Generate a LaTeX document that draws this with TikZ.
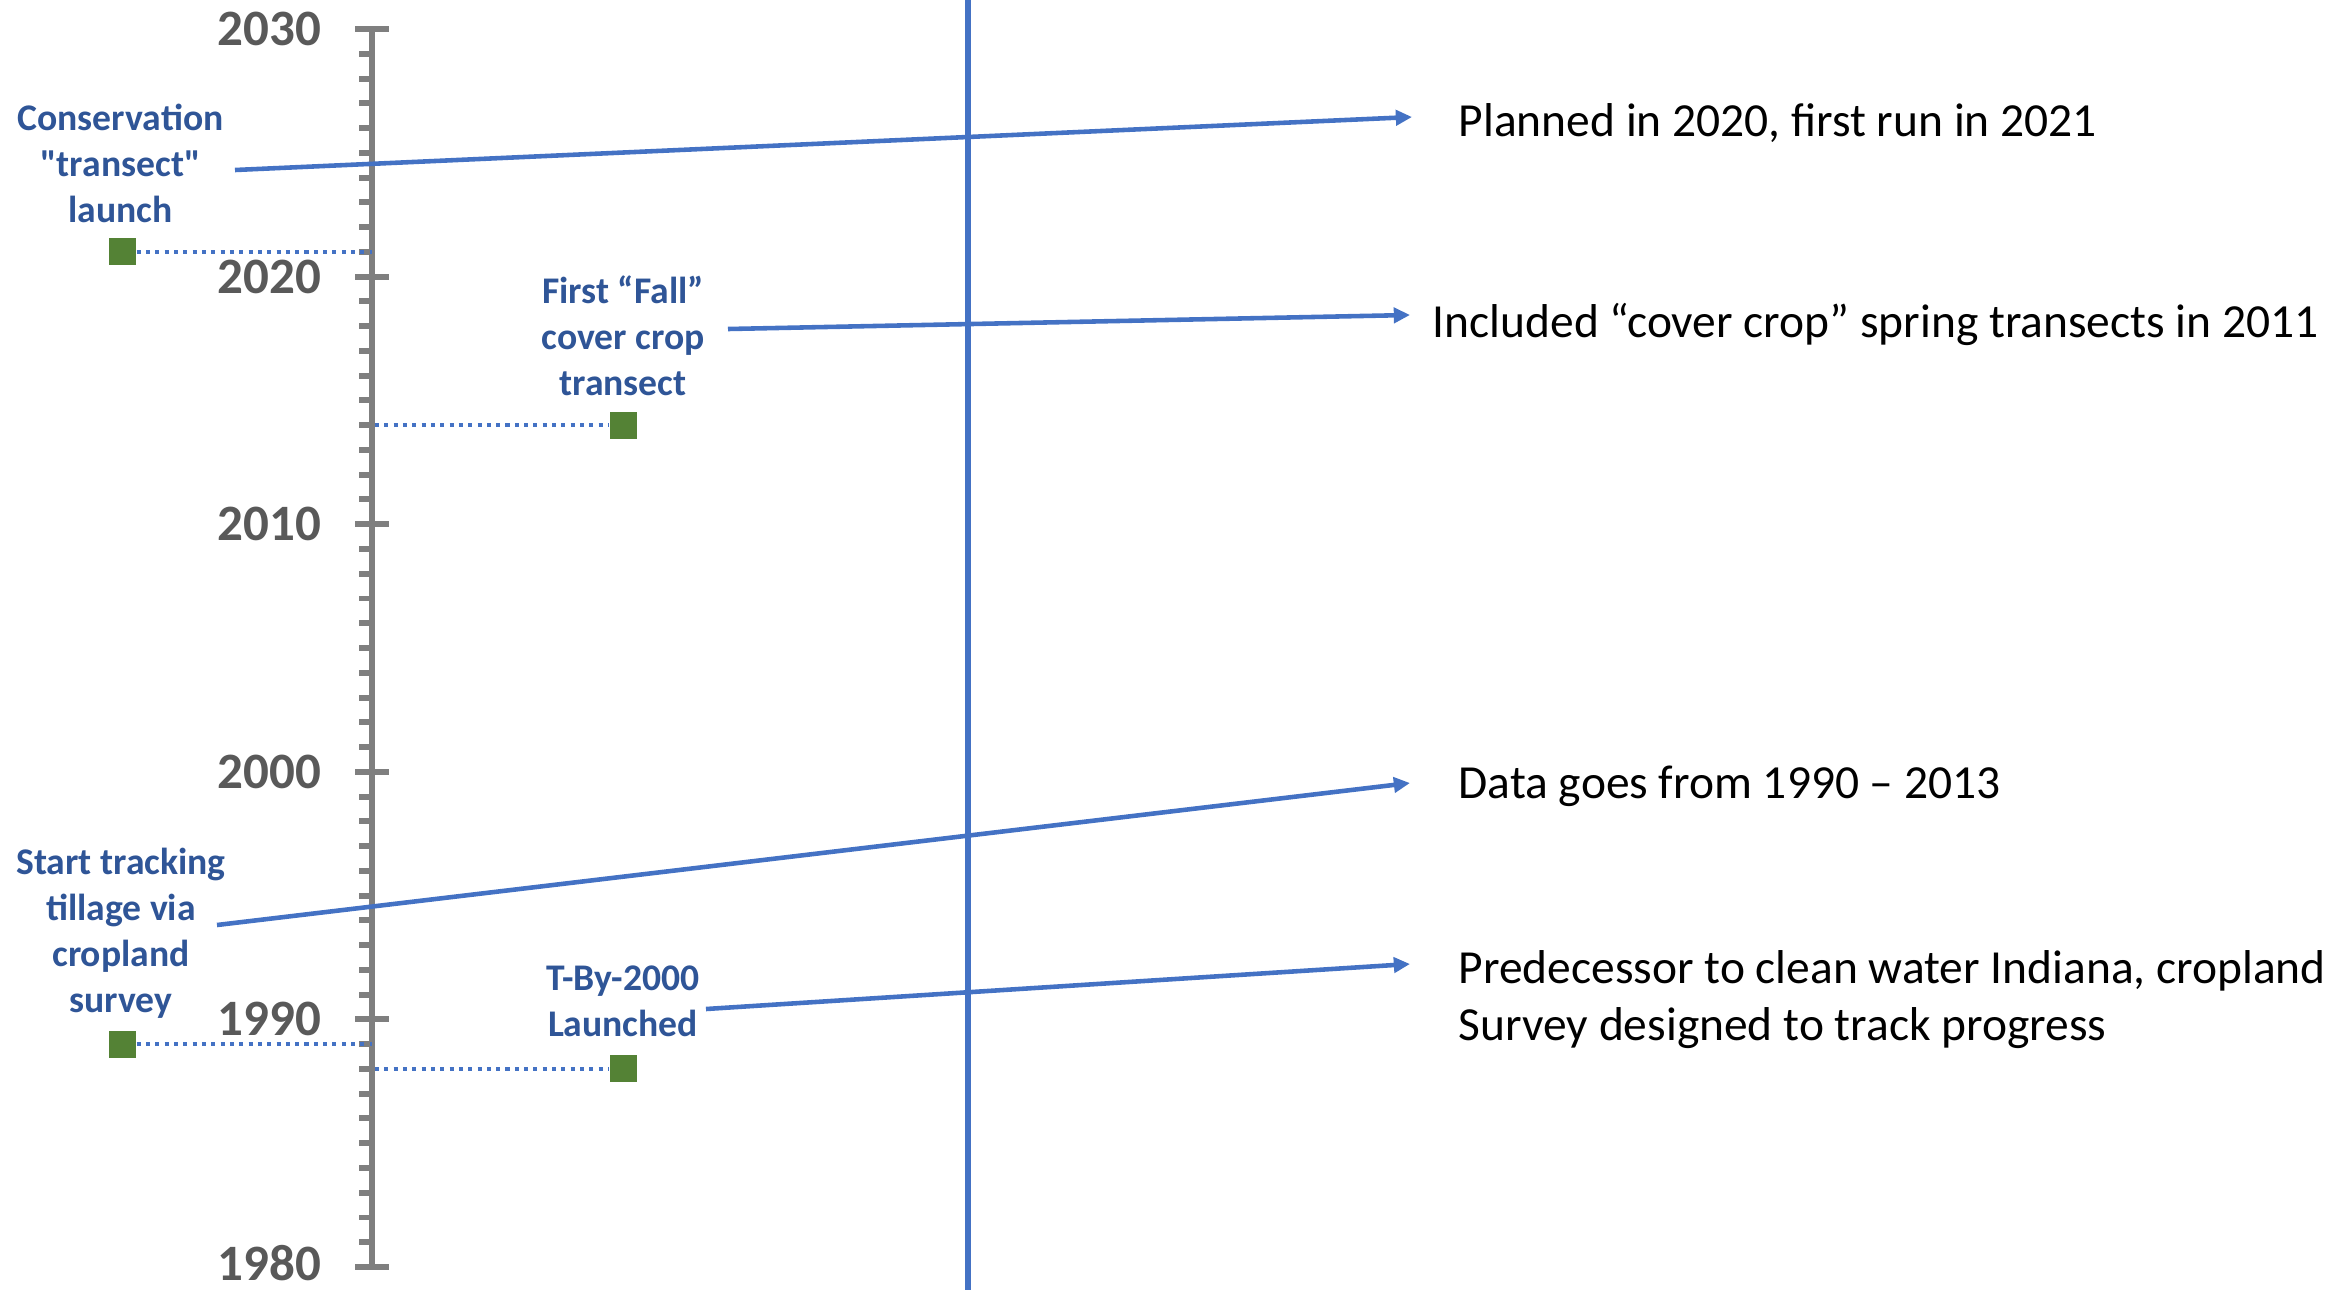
\documentclass[tikz,border=0pt]{standalone}
\usepackage{fontspec}
\setmainfont{Carlito}
\usetikzlibrary{arrows.meta}

\definecolor{axisgray}{HTML}{7F7F7F}
\definecolor{yeargray}{HTML}{595959}
\definecolor{callblue}{HTML}{4472C4}
\definecolor{labelblue}{HTML}{2F5597}
\definecolor{markgreen}{HTML}{548235}

% vertical position of a year on the axis
\newcommand{\yearpos}[1]{29+(2030-#1)*24.76}

\tikzset{
  axisline/.style={draw=axisgray, line width=1.7pt},
  yearlabel/.style={anchor=east, inner sep=0pt, text=yeargray, font=\fontsize{14.5}{17}\selectfont\bfseries},
  eventlabel/.style={align=center, inner sep=0pt, text=labelblue, font=\fontsize{10.7}{13.1}\selectfont\bfseries},
  notetext/.style={anchor=west, align=left, inner sep=0pt, font=\fontsize{13.5}{16.2}\selectfont},
  marker/.style={fill=markgreen, minimum size=7.7pt, inner sep=0pt},
  leader/.style={draw=callblue, line width=1.15pt, dash pattern=on 1.15pt off 1.5pt},
  callout/.style={draw=callblue, line width=1.3pt, -{Triangle[length=4.6pt, width=4.3pt]}},
}

\begin{document}
\begin{tikzpicture}[x=0.01cm, y=-0.01cm]
    \useasboundingbox (0,0) rectangle (2344,1290);

    % Reference line
    \coordinate (rtop) at (968,0);
    \coordinate (rbot) at (968,1290);
    \draw[callblue, line width=1.55pt] (rtop) -- (rbot);

    % Time axis with ticks
    \coordinate (atop) at (372,{\yearpos{2030}});
    \coordinate (abot) at (372,{\yearpos{1980}});
    \draw[axisline] (atop) -- (abot);
    \foreach \y in {1981,...,2029}
        \draw[axisline] (372,{\yearpos{\y}}) -- ++(-13,0);
    \foreach \y in {1980,1990,...,2030}
        \draw[axisline] (355,{\yearpos{\y}}) -- (389,{\yearpos{\y}});
    \foreach \y in {1990,2000,...,2030}
        \node[yearlabel] (yr\y) at (322,{\yearpos{\y}}) {\y};
    \node[yearlabel] (yr1980) at (322,{\yearpos{1980}-4}) {1980};

    % Markers and leaders to the axis
    \node[marker] (m2021) at (122.5,{\yearpos{2021}}) {};
    \node[marker] (m2014) at (623.5,{\yearpos{2014}}) {};
    \node[marker] (m1989) at (122.5,{\yearpos{1989}}) {};
    \node[marker] (m1988) at (623.5,{\yearpos{1988}}) {};
    \coordinate (t2021) at (372,{\yearpos{2021}});
    \coordinate (t2014) at (375,{\yearpos{2014}});
    \coordinate (t1989) at (372,{\yearpos{1989}});
    \coordinate (t1988) at (375,{\yearpos{1988}});
    \draw[leader] (m2021.east) -- (t2021);
    \draw[leader] (t2014) -- (m2014.west);
    \draw[leader] (m1989.east) -- (t1989);
    \draw[leader] (t1988) -- (m1988.west);

    % Event labels
    \node[eventlabel] (lbl2021) at (120.5,163) {Conservation\\\textquotedbl transect\textquotedbl\\launch};
    \node[eventlabel] (lbl2014) at (623,336) {First “Fall”\\cover crop\\transect};
    \node[eventlabel] (lbl1989) at (121,933) {Start tracking\\tillage via\\cropland\\survey};
    \node[eventlabel] (lbl1988) at (623,1001) {T-By-2000\\Launched};

    % Notes
    \node[notetext] (n2021) at (1458,123) {Planned in 2020, first run in 2021};
    \node[notetext] (n2014) at (1432,324) {Included “cover crop” spring transects in 2011};
    \node[notetext] (n1989) at (1458,786) {Data goes from 1990 – 2013};
    \node[notetext] (n1988) at (1458,1000) {Predecessor to clean water Indiana, cropland\\Survey designed to track progress};

    % Callout arrows
    \coordinate (s2021) at (235,170);
    \coordinate (e2021) at (1412,117);
    \coordinate (s2014) at (728,329);
    \coordinate (e2014) at (1410,315);
    \coordinate (s1989) at (217,925);
    \coordinate (e1989) at (1410,783);
    \coordinate (s1988) at (706,1009);
    \coordinate (e1988) at (1410,964);
    \draw[callout] (s2021) -- (e2021);
    \draw[callout] (s2014) -- (e2014);
    \draw[callout] (s1989) -- (e1989);
    \draw[callout] (s1988) -- (e1988);
\end{tikzpicture}
\end{document}
